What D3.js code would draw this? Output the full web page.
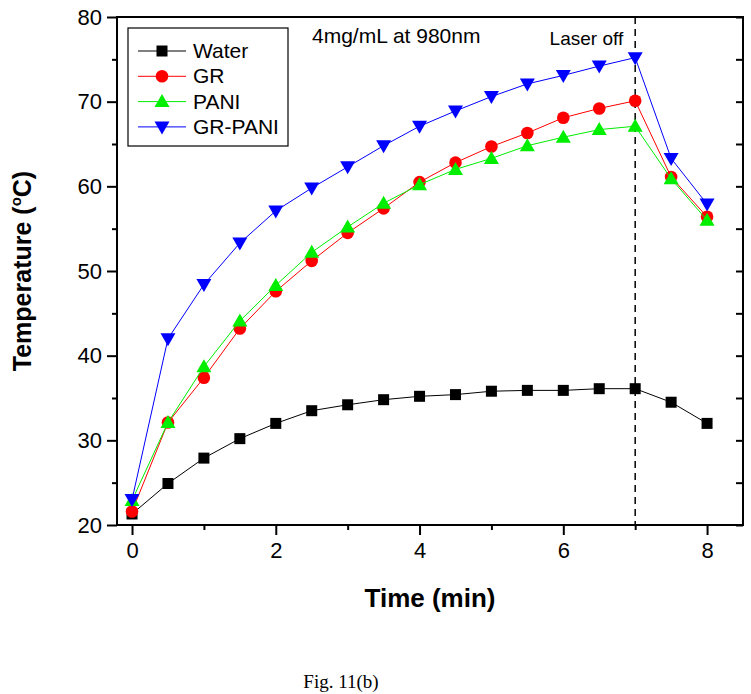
<!DOCTYPE html>
<html><head><meta charset="utf-8">
<script src="https://cdn.jsdelivr.net/npm/d3@7/dist/d3.min.js"></script>
<style>
body{margin:0;background:#fff;}
text{font-family:Arial,"Liberation Sans",sans-serif;}
</style></head>
<body>
<svg id="chart" width="751" height="694"></svg>
<script>
const time = [0,0.5,1,1.5,2,2.5,3,3.5,4,4.5,5,5.5,6,6.5,7,7.5,8];
const water  = [21.3,24.9,27.9,30.2,32.0,33.5,34.2,34.8,35.2,35.4,35.8,35.9,35.9,36.1,36.1,34.5,32.0];
const gr     = [21.6,32.1,37.4,43.2,47.6,51.2,54.5,57.4,60.5,62.8,64.7,66.3,68.1,69.2,70.1,61.1,56.4];
const pani   = [22.9,32.1,38.7,44.1,48.3,52.2,55.2,58.0,60.2,62.0,63.3,64.8,65.8,66.7,67.1,60.9,56.0];
const grpani = [23.0,42.0,48.4,53.3,57.1,59.8,62.3,64.8,67.1,68.9,70.6,72.1,73.1,74.2,75.2,63.3,57.9];
const seriesNames = ["Water","GR","PANI","GR-PANI"];
const seriesColors = ["#000000","#ff0000","#00ee00","#0000ff"];
const seriesShapes = ["square","circle","triangle","triangleDown"];
const xMajor = [0,2,4,6,8];
const xMinor = [1,3,5,7];
const yMajor = [20,30,40,50,60,70,80];
const yMinor = [25,35,45,55,65,75];
const laserOff = 7;

const svg = d3.select("#chart");
const L=117, R=743, T=17, B=525;
const x = d3.scaleLinear().domain([-0.209,8.5]).range([L,R]);
const y = d3.scaleLinear().domain([20,80]).range([B,T]);

// axes
const gx = svg.append("g").attr("transform",`translate(0,${B})`)
  .call(d3.axisBottom(x).tickValues(xMajor).tickSize(10).tickSizeOuter(0).tickPadding(4).tickFormat(d3.format("d")));
const gxm = svg.append("g").attr("transform",`translate(0,${B})`)
  .call(d3.axisBottom(x).tickValues(xMinor).tickSize(5).tickSizeOuter(0).tickFormat(""));
const gy = svg.append("g").attr("transform",`translate(${L},0)`)
  .call(d3.axisLeft(y).tickValues(yMajor).tickSize(10).tickSizeOuter(0).tickPadding(4).tickFormat(d3.format("d")));
const gym = svg.append("g").attr("transform",`translate(${L},0)`)
  .call(d3.axisLeft(y).tickValues(yMinor).tickSize(5).tickSizeOuter(0).tickFormat(""));
const gr2 = svg.append("g").attr("transform",`translate(${R},0)`)
  .call(d3.axisLeft(y).tickValues(yMajor.concat(yMinor)).tickSizeInner(7).tickSizeOuter(0).tickFormat(""));
[gx,gxm,gy,gym,gr2].forEach(g=>{
  g.select(".domain").remove();
  g.selectAll(".tick line").attr("stroke","#000").attr("stroke-width",2);
  g.selectAll(".tick text").attr("font-size",22).attr("fill","#000").attr("font-family","Arial, 'Liberation Sans', sans-serif");
});
gx.selectAll(".tick text").attr("dy","0.85em");
gy.selectAll(".tick text").attr("dx","-1");

// frame
svg.append("rect").attr("x",L).attr("y",T).attr("width",R-L).attr("height",B-T)
  .attr("fill","none").attr("stroke","#000").attr("stroke-width",2);

// laser off line
svg.append("line").attr("x1",x(laserOff)).attr("x2",x(laserOff)).attr("y1",T).attr("y2",B)
  .attr("stroke","#000").attr("stroke-width",1.5).attr("stroke-dasharray","7,5");
svg.append("text").attr("x",x(laserOff)-12).attr("y",45).attr("text-anchor","end")
  .attr("font-size",19).text("Laser off");

svg.append("text").attr("x",312).attr("y",43).attr("font-size",21).text("4mg/mL at 980nm");

function marker(g, shape, color, cx, cy){
  if(shape==="square"){
    g.append("rect").attr("x",cx-5.5).attr("y",cy-5.5).attr("width",11).attr("height",11).attr("fill",color);
  } else if(shape==="circle"){
    g.append("circle").attr("cx",cx).attr("cy",cy).attr("r",6.3).attr("fill",color);
  } else if(shape==="triangle"){
    g.append("path").attr("d",`M${cx},${cy-7.5}L${cx+7.5},${cy+5.5}L${cx-7.5},${cy+5.5}Z`).attr("fill",color);
  } else {
    g.append("path").attr("d",`M${cx},${cy+7.5}L${cx+7.5},${cy-5.5}L${cx-7.5},${cy-5.5}Z`).attr("fill",color);
  }
}

const allSeries = [water,gr,pani,grpani];
const line = d3.line().x(d=>x(d[0])).y(d=>y(d[1]));
allSeries.forEach((vals,i)=>{
  const pts = time.map((t,j)=>[t,vals[j]]);
  const g = svg.append("g");
  g.append("path").datum(pts).attr("d",line).attr("fill","none")
    .attr("stroke",seriesColors[i]).attr("stroke-width",1);
  pts.forEach(p=>marker(g,seriesShapes[i],seriesColors[i],x(p[0]),y(p[1])));
});

// legend
const lg = svg.append("g");
lg.append("rect").attr("x",128).attr("y",28).attr("width",160).attr("height",118)
  .attr("fill","#fff").attr("stroke","#000").attr("stroke-width",1.2);
seriesNames.forEach((n,i)=>{
  const cy = 51 + i*25.3;
  lg.append("line").attr("x1",138).attr("x2",186).attr("y1",cy).attr("y2",cy)
    .attr("stroke",seriesColors[i]).attr("stroke-width",1);
  marker(lg,seriesShapes[i],seriesColors[i],162,cy);
  lg.append("text").attr("x",193).attr("y",cy+7).attr("font-size",21).text(n);
});

// axis titles
svg.append("text").attr("x",(L+R)/2).attr("y",607).attr("text-anchor","middle")
  .attr("font-size",26).attr("font-weight","bold").text("Time (min)");
const yt = svg.append("text").attr("transform",`translate(31,${(T+B)/2}) rotate(-90)`)
  .attr("text-anchor","middle").attr("font-size",25).attr("font-weight","bold");
yt.append("tspan").text("Temperature (");
yt.append("tspan").attr("font-size",15).attr("dy",-10).text("o");
yt.append("tspan").attr("dy",10).text("C)");

svg.append("text").attr("x",341).attr("y",688).attr("text-anchor","middle")
  .attr("font-size",19).style("font-family","'Liberation Serif','Times New Roman',serif").text("Fig. 11(b)");
</script>
</body></html>
